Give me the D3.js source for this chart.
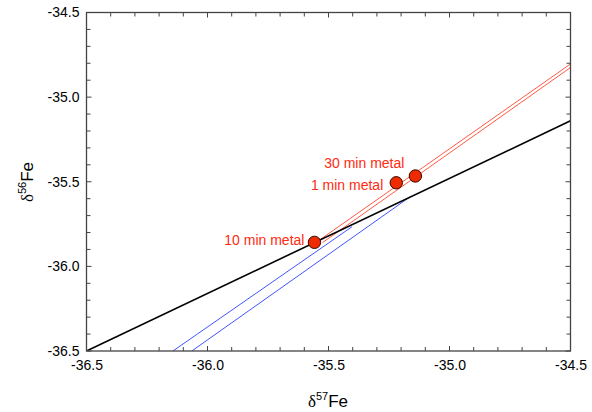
<!DOCTYPE html>
<html>
<head>
<meta charset="utf-8">
<script src="https://cdn.jsdelivr.net/npm/d3@7"></script>
<style>
  html, body { margin: 0; padding: 0; background: #fff; }
  svg { display: block; font-family: Arial, "Liberation Sans", sans-serif; }
</style>
</head>
<body>
<svg id="chart" width="592" height="412"></svg>
<script>
// ---- data ----
const xTicks = [-36.5, -36.0, -35.5, -35.0, -34.5];
const yTicks = [-36.5, -36.0, -35.5, -35.0, -34.5];
const sampleNames = ["10 min metal", "1 min metal", "30 min metal"];
const sampleX = [-35.558, -35.22, -35.141];
const sampleY = [-35.858, -35.506, -35.466];
const blackX = [-36.5, -34.5];
const blackY = [-36.5, -35.14];
const red1X = [-35.543, -34.5];
const red1Y = [-35.85, -34.804];
const red2X = [-35.525, -34.5];
const red2Y = [-35.86, -34.825];
const blue1X = [-36.143, -35.403];
const blue1Y = [-36.5, -35.766];
const blue2X = [-36.065, -35.162];
const blue2Y = [-36.5, -35.588];

// ---- layout ----
const L = 86.5, T = 12.5, R = 570.5, B = 351;
const labelOffsets = [[-10, 3], [-13, 7], [-11, -8]];

const svg = d3.select("#chart");
const x = d3.scaleLinear().domain([-36.5, -34.5]).range([L, R]);
const y = d3.scaleLinear().domain([-36.5, -34.5]).range([B, T]);
const fmt = v => v.toFixed(1);

const minor = d3.range(-36.5, -34.45, 0.1).map(v => +v.toFixed(2));
const axisColor = "#444";

svg.append("defs").append("clipPath").attr("id", "clip")
  .append("rect").attr("x", L).attr("y", T).attr("width", R - L).attr("height", B - T);

const plot = svg.append("g").attr("clip-path", "url(#clip)");
const line = d3.line().x(d => x(d[0])).y(d => y(d[1]));
function drawLine(xs, ys, color, w) {
  plot.append("path").datum(xs.map((v, i) => [v, ys[i]]))
    .attr("d", line).attr("fill", "none").attr("stroke", color).attr("stroke-width", w);
}
drawLine(blue1X, blue1Y, "#3f55ff", 1);
drawLine(blue2X, blue2Y, "#3f55ff", 1);
drawLine(red1X, red1Y, "#ff5a45", 1);
drawLine(red2X, red2Y, "#ff5a45", 1);
drawLine(blackX, blackY, "#000", 1.6);

// ticks inward on all four sides
const tickLen = v => (Math.abs(Math.round(v * 2) - v * 2) < 1e-6 ? 5 : 4);
const g = svg.append("g");
minor.forEach(v => {
  const len = tickLen(v);
  g.append("line").attr("x1", x(v)).attr("x2", x(v)).attr("y1", B).attr("y2", B - len);
  g.append("line").attr("x1", x(v)).attr("x2", x(v)).attr("y1", T).attr("y2", T + len);
  g.append("line").attr("y1", y(v)).attr("y2", y(v)).attr("x1", L).attr("x2", L + len);
  g.append("line").attr("y1", y(v)).attr("y2", y(v)).attr("x1", R).attr("x2", R - len);
});
g.selectAll("line").attr("stroke", axisColor).attr("stroke-width", 1);
svg.append("rect").attr("x", L).attr("y", T).attr("width", R - L).attr("height", B - T)
  .attr("fill", "none").attr("stroke", axisColor).attr("stroke-width", 1.3);

// tick labels via axis generators
const xAxis = svg.append("g").attr("transform", `translate(0,${B})`)
  .call(d3.axisBottom(x).tickValues(xTicks).tickSize(0).tickPadding(9).tickFormat(fmt));
xAxis.select(".domain").remove();
xAxis.selectAll("text").attr("font-size", 14).attr("fill", "#000")
  .attr("font-family", "Arial, 'Liberation Sans', sans-serif");
const yAxis = svg.append("g").attr("transform", `translate(${L},0)`)
  .call(d3.axisLeft(y).tickValues(yTicks).tickSize(0).tickPadding(7).tickFormat(fmt));
yAxis.select(".domain").remove();
yAxis.selectAll("text").attr("font-size", 14).attr("fill", "#000")
  .attr("font-family", "Arial, 'Liberation Sans', sans-serif");

// axis titles
const xt = svg.append("text").attr("x", 328).attr("y", 407).attr("text-anchor", "middle")
  .attr("font-size", 17).attr("fill", "#000");
xt.append("tspan").attr("font-family", "'Liberation Serif', serif").text("δ");
xt.append("tspan").attr("font-size", 11).attr("dy", -7).text("57");
xt.append("tspan").attr("dy", 7).text("Fe");
const yt = svg.append("text").attr("transform", "translate(33,182) rotate(-90)")
  .attr("text-anchor", "middle").attr("font-size", 17).attr("fill", "#000");
yt.append("tspan").attr("font-family", "'Liberation Serif', serif").text("δ");
yt.append("tspan").attr("font-size", 11).attr("dy", -7).text("56");
yt.append("tspan").attr("dy", 7).text("Fe");

// points and labels
const pts = sampleNames.map((n, i) => ({ n, x: sampleX[i], y: sampleY[i], o: labelOffsets[i] }));
svg.selectAll("circle.pt").data(pts).join("circle").attr("class", "pt")
  .attr("cx", d => x(d.x)).attr("cy", d => y(d.y)).attr("r", 6.2)
  .attr("fill", "#ee2a00").attr("stroke", "#3a0a00").attr("stroke-width", 1);
svg.selectAll("text.lab").data(pts).join("text").attr("class", "lab")
  .attr("x", d => x(d.x) + d.o[0]).attr("y", d => y(d.y) + d.o[1])
  .attr("text-anchor", "end").attr("font-size", 14).attr("fill", "#ff2a10")
  .text(d => d.n);
</script>
</body>
</html>
